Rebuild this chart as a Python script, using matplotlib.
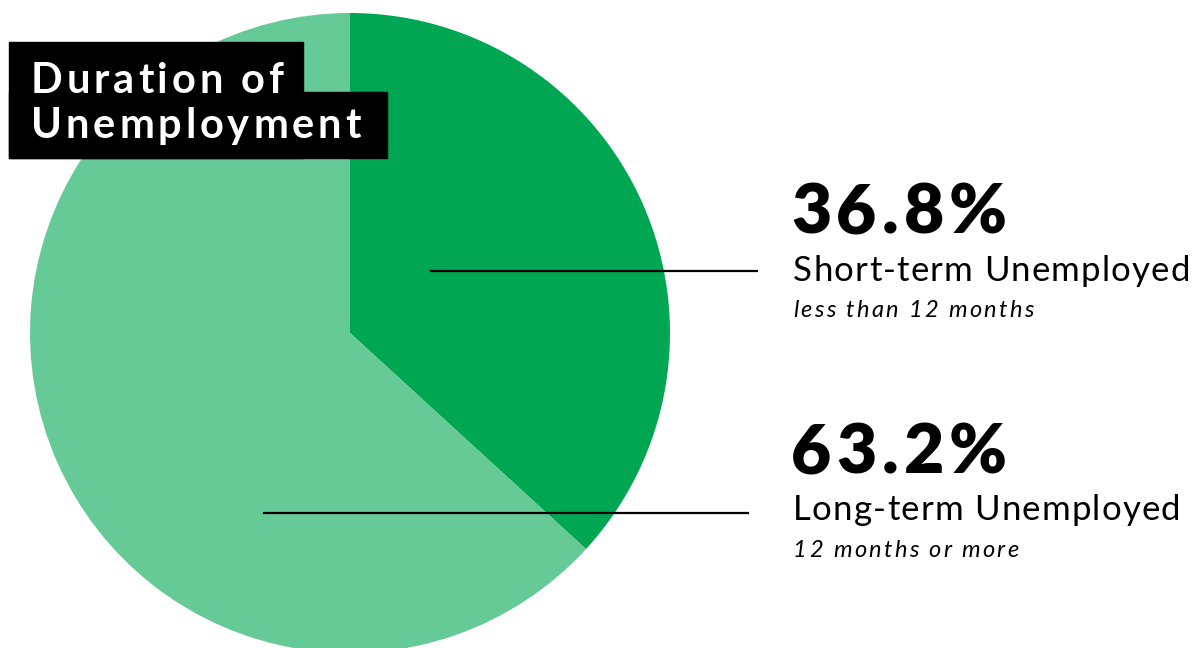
import matplotlib
matplotlib.use("Agg")
import matplotlib.pyplot as plt
from matplotlib.patches import Rectangle

# Data
categories = ["Short-term Unemployed", "Long-term Unemployed"]
subtitles = ["less than 12 months", "12 months or more"]
shares = [36.8, 63.2]
colors = ["#00A651", "#66CA96"]
title_lines = ["Duration of", "Unemployment"]

W, H = 1199, 648
fig = plt.figure(figsize=(W / 100, H / 100), dpi=100)
ax = fig.add_axes([0, 0, 1, 1])
ax.set_xlim(0, W)
ax.set_ylim(0, H)
ax.set_aspect("equal")
ax.axis("off")
renderer = fig.canvas.get_renderer()


def Y(y):
    return H - y


def text_width(s, **kw):
    t = ax.text(0, 0, s, **kw)
    w = t.get_window_extent(renderer).width
    t.remove()
    return w


def tracked_text(x, y, s, tracking, **kw):
    """Draw a string with extra letter spacing (in pixels)."""
    ref = text_width("|", **kw)
    for i, ch in enumerate(s):
        if ch == " ":
            continue
        off = text_width(s[:i] + "|", **kw) - ref if i else 0
        ax.text(x + off + i * tracking, y, ch, va="baseline", ha="left", **kw)


# Pie
cx, cy, r = 350, Y(333), 320
ax.pie(shares, colors=colors, startangle=90, counterclock=False,
       center=(cx, cy), radius=r, frame=True,
       wedgeprops=dict(linewidth=0))
ax.set_xlim(0, W)
ax.set_ylim(0, H)
ax.axis("off")

FONT = "Lato"

# Title block
ax.add_patch(Rectangle((9, Y(158)), 294, 116, color="black", zorder=5))
ax.add_patch(Rectangle((9, Y(158)), 378, 66, color="black", zorder=5))
for line, yb in zip(title_lines, (93, 138)):
    tracked_text(31, Y(yb), line, 3.8, color="white", fontsize=30,
                 fontweight="bold", family=FONT, zorder=6)

# Leader lines
ax.plot([431, 757], [Y(271), Y(271)], color="black", lw=1.6, zorder=4)
ax.plot([264, 748], [Y(513), Y(513)], color="black", lw=1.6, zorder=4)

# Labels
label_y = [(233, 281, 317), (473, 520, 557)]
for share, cat, sub, (y1, y2, y3) in zip(shares, categories, subtitles, label_y):
    tracked_text(791, Y(y1), f"{share:.1f}%", 5.0, fontsize=50,
                 fontweight="heavy", family=FONT, color="black")
    tracked_text(793, Y(y2), cat, 1.2, fontsize=25, family=FONT, color="black")
    tracked_text(793, Y(y3), sub, 2.3, fontsize=17, family=FONT,
                 style="italic", color="black")

fig.savefig("out.png", dpi=100, facecolor="white")
